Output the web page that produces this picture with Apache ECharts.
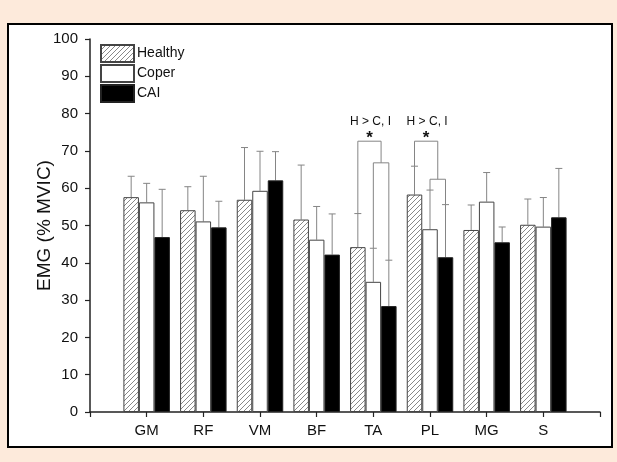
<!DOCTYPE html>
<html>
<head>
<meta charset="utf-8">
<script src="https://cdn.jsdelivr.net/npm/echarts@6/dist/echarts.min.js"></script>
<style>
html, body { margin: 0; padding: 0; background: #fdeadb; }
#main { width: 617px; height: 462px; }
</style>
</head>
<body>
<div id="main"></div>
<script>
// data
var muscles = ['GM', 'RF', 'VM', 'BF', 'TA', 'PL', 'MG', 'S'];
var healthy = [57.6, 54.1, 56.9, 51.6, 44.2, 58.3, 48.8, 50.2];
var healthyErr = [63.2, 60.4, 70.9, 66.2, 53.2, 65.9, 55.5, 57.1];
var coper = [56.2, 51.1, 59.3, 46.2, 34.9, 49.0, 56.4, 49.7];
var coperErr = [61.3, 63.2, 69.9, 55.1, 43.9, 59.5, 64.2, 57.5];
var cai = [46.9, 49.5, 62.1, 42.2, 28.4, 41.5, 45.5, 52.2];
var caiErr = [59.7, 56.5, 69.8, 53.1, 40.7, 55.6, 49.6, 65.3];
var yTicks = [0, 10, 20, 30, 40, 50, 60, 70, 80, 90, 100];
// significance brackets: muscle, outer bracket level, inner bracket level
var sigMuscle = ['TA', 'PL'];
var sigOuter = [72.6, 72.6];
var sigInner = [66.8, 62.4];
var sigLabel = 'H > C, I';

var BAR_W = 15.5;
var axisCats = [''].concat(muscles, ['']);
function pad(arr) { return ['-'].concat(arr, ['-']); }

// hatch pattern for Healthy
var hatch = document.createElement('canvas');
hatch.width = 5; hatch.height = 5;
var hc = hatch.getContext('2d');
hc.fillStyle = '#ffffff';
hc.fillRect(0, 0, 5, 5);
hc.strokeStyle = '#7a7a7a';
hc.lineWidth = 0.9;
hc.beginPath();
hc.moveTo(0, 5); hc.lineTo(5, 0);
hc.moveTo(-1, 1); hc.lineTo(1, -1);
hc.moveTo(4, 6); hc.lineTo(6, 4);
hc.stroke();

var errSets = [
    { vals: healthy, errs: healthyErr, off: -BAR_W },
    { vals: coper, errs: coperErr, off: 0 },
    { vals: cai, errs: caiErr, off: BAR_W }
];
var errData = [];
errSets.forEach(function (s, k) {
    for (var i = 0; i < muscles.length; i++) {
        errData.push([i + 1, s.vals[i], s.errs[i], k]);
    }
});

var sigData = sigMuscle.map(function (m, j) {
    var i = muscles.indexOf(m);
    return [i + 1, healthyErr[i], coperErr[i], caiErr[i], sigOuter[j], sigInner[j]];
});

var lineStyle = { stroke: '#858585', lineWidth: 1 };

var option = {
    backgroundColor: '#fdeadb',
    animation: false,
    textStyle: { fontFamily: 'Liberation Sans, Arial, sans-serif' },
    graphic: [{
        type: 'rect',
        z: -10,
        shape: { x: 8, y: 24, width: 604, height: 423 },
        style: { fill: '#ffffff', stroke: '#000000', lineWidth: 2 }
    }],
    grid: { left: 90, right: 17, top: 39, bottom: 50 },
    legend: {
        orient: 'vertical',
        left: 95,
        top: 39,
        itemWidth: 33,
        itemHeight: 17,
        itemGap: 1,
        icon: 'rect',
        selectedMode: false,
        textStyle: { fontSize: 14, color: '#111', padding: [0, 0, 0, -2] },
        data: ['Healthy', 'Coper', 'CAI']
    },
    xAxis: {
        type: 'category',
        data: axisCats,
        boundaryGap: false,
        axisLine: { lineStyle: { color: '#222', width: 1.5 } },
        axisTick: { show: true, length: 5, inside: false, lineStyle: { color: '#222', width: 1.2 } },
        axisLabel: { fontSize: 15, color: '#111', margin: 11, interval: 0 }
    },
    yAxis: {
        type: 'value',
        min: 0,
        max: 100,
        interval: 10,
        name: 'EMG (% MVIC)',
        nameLocation: 'middle',
        nameGap: 36,
        nameMoveOverlap: false,
        nameTextStyle: { fontSize: 19, color: '#111' },
        splitLine: { show: false },
        axisLine: { show: true, lineStyle: { color: '#222', width: 1.5 } },
        axisTick: { show: true, length: 5, lineStyle: { color: '#222', width: 1.2 } },
        axisLabel: {
            fontSize: 15, color: '#111', margin: 12,
            formatter: function (v) { return yTicks.indexOf(v) >= 0 ? String(v) : ''; }
        }
    },
    series: [
        {
            name: 'Healthy', type: 'bar', barWidth: BAR_W, barGap: '0%',
            data: pad(healthy),
            itemStyle: { color: { image: hatch, repeat: 'repeat' }, borderColor: '#444', borderWidth: 1 }
        },
        {
            name: 'Coper', type: 'bar', barWidth: BAR_W, barGap: '0%',
            data: pad(coper),
            itemStyle: { color: '#ffffff', borderColor: '#444', borderWidth: 1 }
        },
        {
            name: 'CAI', type: 'bar', barWidth: BAR_W, barGap: '0%',
            data: pad(cai),
            itemStyle: { color: '#000000', borderColor: '#222', borderWidth: 1 }
        },
        {
            type: 'custom',
            z: 1,
            data: errData,
            renderItem: function (params, api) {
                var off = errSets[api.value(3)].off;
                var base = api.coord([api.value(0), api.value(1)]);
                var top = api.coord([api.value(0), api.value(2)]);
                var x = base[0] + off;
                return {
                    type: 'group',
                    children: [
                        { type: 'line', shape: { x1: x, y1: base[1], x2: x, y2: top[1] }, style: lineStyle },
                        { type: 'line', shape: { x1: x - 3.5, y1: top[1], x2: x + 3.5, y2: top[1] }, style: lineStyle }
                    ]
                };
            }
        },
        {
            type: 'custom',
            z: 3,
            data: sigData,
            renderItem: function (params, api) {
                var c = api.coord([api.value(0), 0])[0];
                var xh = c - BAR_W, xc = c, xi = c + BAR_W, xm = c + BAR_W / 2;
                var yH = api.coord([0, api.value(1)])[1];
                var yC = api.coord([0, api.value(2)])[1];
                var yI = api.coord([0, api.value(3)])[1];
                var yO = api.coord([0, api.value(4)])[1];
                var yN = api.coord([0, api.value(5)])[1];
                var mid = (xh + xm) / 2;
                return {
                    type: 'group',
                    children: [
                        { type: 'polyline', shape: { points: [[xh, yH], [xh, yO], [xm, yO], [xm, yN]] }, style: { stroke: '#858585', lineWidth: 1, fill: null } },
                        { type: 'polyline', shape: { points: [[xc, yC], [xc, yN], [xi, yN], [xi, yI]] }, style: { stroke: '#858585', lineWidth: 1, fill: null } },
                        { type: 'text', x: mid, y: yO + 6, style: { text: '*', fontSize: 17, fontWeight: 'bold', fill: '#111', align: 'center', verticalAlign: 'bottom' } },
                        { type: 'text', x: mid + 1, y: yO - 20, style: { text: sigLabel, fontSize: 12, fill: '#111', align: 'center', verticalAlign: 'middle' } }
                    ]
                };
            }
        }
    ]
};

echarts.init(document.getElementById('main'), null, { renderer: 'canvas' }).setOption(option);
</script>
</body>
</html>
